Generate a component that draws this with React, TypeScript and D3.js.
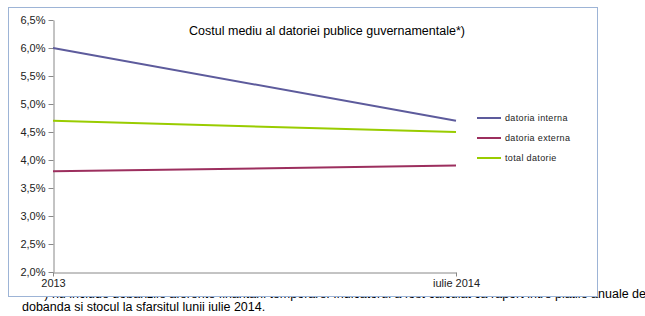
import * as d3 from "d3";
import { useEffect, useRef } from "react";

const categories = ["2013", "iulie 2014"];
const seriesNames = ["datoria interna", "datoria externa", "total datorie"];
const interna = [6.0, 4.7];
const externa = [3.8, 3.9];
const total = [4.7, 4.5];
const seriesColors = ["#5d5b9c", "#9c2f5e", "#99cc00"];
const yTicks = [2.0, 2.5, 3.0, 3.5, 4.0, 4.5, 5.0, 5.5, 6.0, 6.5];

const title = "Costul mediu al datoriei publice guvernamentale*)";
const note1 =
  "*) nu include dobanzile aferente finantarii temporare. Indicatorul a fost calculat ca raport intre platile anuale de";
const note2 = "dobanda si stocul la sfarsitul lunii iulie 2014.";

export default function App() {
  const ref = useRef<SVGSVGElement>(null);

  useEffect(() => {
    const svg = d3.select(ref.current);
    svg.selectAll("*").remove();
    const font = "'Liberation Sans', Arial, sans-serif";

    // footnote under the chart (partly hidden by the chart box)
    svg
      .append("text")
      .attr("x", 646)
      .attr("y", 298)
      .attr("text-anchor", "end")
      .style("font-family", font)
      .style("font-size", "12.5px")
      .attr("fill", "#000")
      .text(note1);
    svg
      .append("text")
      .attr("x", 22)
      .attr("y", 311)
      .style("font-family", font)
      .style("font-size", "12.5px")
      .attr("fill", "#000")
      .text(note2);

    // chart box
    svg
      .append("rect")
      .attr("x", 8.5)
      .attr("y", 7.5)
      .attr("width", 589)
      .attr("height", 289)
      .attr("fill", "#fff")
      .attr("stroke", "#9db4d6")
      .attr("stroke-width", 1);

    const x = d3.scalePoint<string>().domain(categories).range([53, 456]);
    const y = d3.scaleLinear().domain([2.0, 6.5]).range([272, 20]);
    const fmt = (v: number) => v.toFixed(1).replace(".", ",") + "%";

    // y axis
    const yAxis = svg
      .append("g")
      .attr("transform", "translate(53.5,0)")
      .call(
        d3
          .axisLeft(y)
          .tickValues(yTicks)
          .tickFormat((d) => fmt(d as number))
          .tickSizeInner(5)
          .tickSizeOuter(0)
          .tickPadding(3)
      );
    yAxis.select(".domain").attr("stroke", "#888");
    yAxis.selectAll(".tick line").attr("stroke", "#888");
    yAxis
      .selectAll(".tick text")
      .style("font-family", font)
      .style("font-size", "11px")
      .attr("fill", "#222");

    // x axis
    const xAxis = svg
      .append("g")
      .attr("transform", "translate(0,272.5)")
      .call(d3.axisBottom(x).tickSizeInner(4).tickSizeOuter(0).tickPadding(3));
    xAxis.select(".domain").attr("stroke", "#888");
    xAxis.selectAll(".tick line").attr("stroke", "#888");
    xAxis
      .selectAll(".tick text")
      .style("font-family", font)
      .style("font-size", "11px")
      .attr("fill", "#222");

    // lines
    const line = d3
      .line<number>()
      .x((_, i) => x(categories[i]) as number)
      .y((d) => y(d));
    [interna, externa, total].forEach((vals, i) => {
      svg
        .append("path")
        .attr("d", line(vals))
        .attr("fill", "none")
        .attr("stroke", seriesColors[i])
        .attr("stroke-width", 2);
    });

    // title
    svg
      .append("text")
      .attr("x", 327)
      .attr("y", 35)
      .attr("text-anchor", "middle")
      .style("font-family", font)
      .style("font-size", "12.5px")
      .attr("fill", "#000")
      .text(title);

    // legend
    const legend = svg.append("g").attr("transform", "translate(477,118)");
    seriesNames.forEach((name, i) => {
      const g = legend.append("g").attr("transform", `translate(0,${i * 20})`);
      g.append("line")
        .attr("x1", 0)
        .attr("x2", 24)
        .attr("stroke", seriesColors[i])
        .attr("stroke-width", 2);
      g.append("text")
        .attr("x", 28)
        .attr("y", 3)
        .style("font-family", font)
        .style("font-size", "9px")
        .style("letter-spacing", "0.35px")
        .attr("fill", "#222")
        .text(name);
    });
  }, []);

  return (
    <svg
      ref={ref}
      width={645}
      height={316}
      style={{ position: "absolute", left: 0, top: 0, background: "#fff" }}
    />
  );
}
